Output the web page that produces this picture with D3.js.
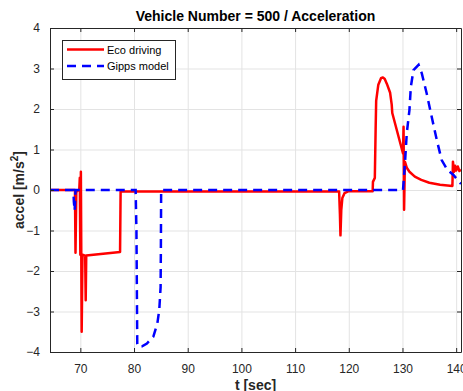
<!DOCTYPE html>
<html>
<head>
<meta charset="utf-8">
<script src="https://cdn.jsdelivr.net/npm/d3@7.9.0/dist/d3.min.js"></script>
<style>
  body { margin: 0; background: #fff; }
  svg { font-family: "Liberation Sans", Arial, sans-serif; }
</style>
</head>
<body>
<div id="chart"></div>
<script>
// data
const xTicks = [70, 80, 90, 100, 110, 120, 130, 140];
const yTicks = [-4, -3, -2, -1, 0, 1, 2, 3, 4];

const ecoT = [64.35, 69.0, 69.1, 69.25, 69.6, 69.8, 69.9, 70.0, 70.1, 70.25, 70.4, 70.9, 71.0, 71.1, 77.4, 77.5,
  118.2, 118.35, 118.45, 118.6, 118.8, 119.2, 120.0, 124.45, 124.5, 124.85, 125.0, 125.1, 125.5, 126.0, 126.35,
  126.7, 127.1, 127.7, 128.0, 128.1, 130.1, 130.2, 130.3, 130.45, 130.8, 131.3, 132.3, 133.5, 135.0, 137.0, 139.3,
  139.4, 139.6, 139.8, 140.0, 140.3, 140.6, 140.9];
const ecoA = [0, 0, -1.55, -0.05, 0, 0, 0.3, -1.6, 0.45, -3.5, -1.6, -1.62, -2.72, -1.62, -1.53, -0.04,
  -0.04, -0.6, -1.12, -0.5, -0.2, -0.08, -0.03, -0.03, 0.2, 0.3, 1.5, 2.2, 2.6, 2.76, 2.78,
  2.74, 2.62, 2.4, 2.1, 1.9, 0.9, 1.56, -0.49, 0.7, 0.55, 0.45, 0.33, 0.25, 0.18, 0.13, 0.1,
  0.7, 0.45, 0.6, 0.48, 0.58, 0.47, 0.5];

const gippsT = [64.35, 68.7, 68.8, 68.95, 69.1, 80.3, 80.45, 80.6, 80.8, 81.5, 82.4, 83.6, 84.35, 84.7, 84.95,
  85.0, 85.05, 130.1, 130.5, 130.8, 131.3, 131.56, 132.05, 133.0, 133.6, 134.5, 135.5, 136.4, 137.3, 138.4,
  139.5, 140.9];
const gippsA = [0, 0, -0.3, -0.51, 0, 0, -1, -3.8, -3.87, -3.86, -3.79, -3.62, -3.29, -2.96, -2.4,
  -1.5, 0, 0, 0.74, 1.4, 1.98, 2.55, 2.96, 3.09, 2.88, 2.39, 1.77, 1.23, 0.74, 0.49,
  0.37, 0.15];

const width = 463;
const height = 391;
const margin = { top: 28, right: 2, bottom: 39, left: 50 };

const svg = d3.select('#chart').append('svg')
  .attr('width', width)
  .attr('height', height);

const xScale = d3.scaleLinear()
  .domain([64.35, 140.9])
  .range([margin.left, width - margin.right]);
const yScale = d3.scaleLinear()
  .domain([-4, 4])
  .range([height - margin.bottom, margin.top]);

const plotLeft = xScale.range()[0], plotRight = xScale.range()[1];
const plotTop = yScale.range()[1], plotBottom = yScale.range()[0];

// gridlines
svg.append('g')
  .attr('transform', `translate(0, ${plotBottom})`)
  .call(d3.axisBottom(xScale).tickValues(xTicks).tickFormat('').tickSize(-(plotBottom - plotTop)))
  .call(g => g.select('.domain').remove())
  .call(g => g.selectAll('line').attr('stroke', '#e3e3e3'));
svg.append('g')
  .attr('transform', `translate(${plotLeft}, 0)`)
  .call(d3.axisLeft(yScale).tickValues(yTicks).tickFormat('').tickSize(-(plotRight - plotLeft)))
  .call(g => g.select('.domain').remove())
  .call(g => g.selectAll('line').attr('stroke', '#e3e3e3'));

// lines
const line = d3.line().x(d => xScale(d[0])).y(d => yScale(d[1]));
const ecoData = ecoT.map((t, i) => [t, ecoA[i]]);
const gippsData = gippsT.map((t, i) => [t, gippsA[i]]);

svg.append('clipPath').attr('id', 'clip')
  .append('rect').attr('x', plotLeft).attr('y', plotTop)
  .attr('width', plotRight - plotLeft).attr('height', plotBottom - plotTop);

const plot = svg.append('g').attr('clip-path', 'url(#clip)');
plot.append('path').datum(ecoData)
  .attr('fill', 'none').attr('stroke', '#ff0000').attr('stroke-width', 2.5)
  .attr('stroke-linejoin', 'round').attr('d', line);
plot.append('path').datum(gippsData)
  .attr('fill', 'none').attr('stroke', '#0000ff').attr('stroke-width', 2.5)
  .attr('stroke-dasharray', '9,6').attr('d', line);

// axes with inward ticks on all sides
const tickStyle = g => {
  g.selectAll('.tick line').attr('stroke', '#262626');
  g.select('.domain').attr('stroke', '#262626');
  g.selectAll('text').attr('fill', '#262626').style('font-size', '12px');
};
svg.append('g')
  .attr('transform', `translate(0, ${plotBottom})`)
  .call(d3.axisBottom(xScale).tickValues(xTicks).tickSize(-4).tickSizeOuter(0).tickPadding(12))
  .call(tickStyle);
svg.append('g')
  .attr('transform', `translate(0, ${plotTop})`)
  .call(d3.axisTop(xScale).tickValues(xTicks).tickSize(-4).tickSizeOuter(0).tickFormat(''))
  .call(tickStyle);
svg.append('g')
  .attr('transform', `translate(${plotLeft}, 0)`)
  .call(d3.axisLeft(yScale).tickValues(yTicks).tickSize(-4).tickSizeOuter(0).tickPadding(10))
  .call(tickStyle);
svg.append('g')
  .attr('transform', `translate(${plotRight}, 0)`)
  .call(d3.axisRight(yScale).tickValues(yTicks).tickSize(-4).tickSizeOuter(0).tickFormat(''))
  .call(tickStyle);

// title and labels
svg.append('text')
  .attr('x', (plotLeft + plotRight) / 2).attr('y', 21)
  .attr('text-anchor', 'middle')
  .style('font-size', '14px').style('font-weight', 'bold').attr('fill', '#000')
  .text('Vehicle Number = 500 / Acceleration');

svg.append('text')
  .attr('x', (plotLeft + plotRight) / 2).attr('y', 390)
  .attr('text-anchor', 'middle')
  .style('font-size', '14px').style('font-weight', 'bold').attr('fill', '#262626')
  .text('t [sec]');

const ylab = svg.append('text')
  .attr('transform', `translate(24, ${(plotTop + plotBottom) / 2}) rotate(-90)`)
  .attr('text-anchor', 'middle')
  .style('font-size', '14px').style('font-weight', 'bold').attr('fill', '#262626');
ylab.append('tspan').text('accel [m/s');
ylab.append('tspan').attr('dy', -6).style('font-size', '10px').text('2');
ylab.append('tspan').attr('dy', 6).text(']');

// legend
const legend = svg.append('g');
legend.append('rect')
  .attr('x', 62.5).attr('y', 40.5).attr('width', 113).attr('height', 39)
  .attr('fill', '#fff').attr('stroke', '#262626').attr('stroke-width', 1);
const items = [
  { name: 'Eco driving', color: '#ff0000', dash: null },
  { name: 'Gipps model', color: '#0000ff', dash: '9,6' }
];
items.forEach((it, i) => {
  const y = 49.5 + i * 16.5;
  legend.append('line')
    .attr('x1', 67).attr('x2', 104).attr('y1', y).attr('y2', y)
    .attr('stroke', it.color).attr('stroke-width', 2.5)
    .attr('stroke-dasharray', it.dash);
  legend.append('text')
    .attr('x', 107).attr('y', y + 4)
    .style('font-size', '11px').attr('fill', '#000')
    .text(it.name);
});
</script>
</body>
</html>
